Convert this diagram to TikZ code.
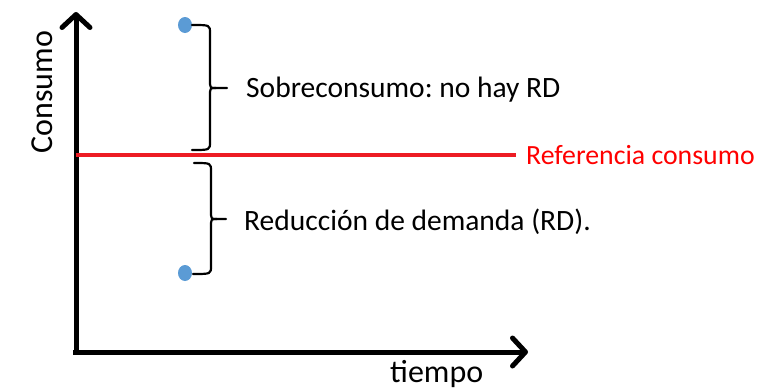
\documentclass[tikz,border=0pt]{standalone}
\usepackage{fontspec}
\setmainfont{Carlito}
\usetikzlibrary{arrows.meta,shapes.geometric}
\definecolor{refred}{RGB}{237,28,36}
\definecolor{txtred}{RGB}{255,0,0}
\definecolor{dotblue}{RGB}{91,155,213}
\tikzset{
  axis/.style={line width=5pt,-{Straight Barb[length=13pt,width=28pt,round]}},
  lbl/.style={font=\fontsize{29.5}{35}\selectfont,inner sep=0pt},
  reflbl/.style={font=\fontsize{27.8}{33}\selectfont,inner sep=0pt,text=txtred},
  axlbl/.style={font=\fontsize{32}{38}\selectfont,inner sep=0pt},
  dot/.style={ellipse,fill=dotblue,minimum width=14pt,minimum height=16pt,inner sep=0pt},
  bracepath/.style={line width=2.2pt,line cap=round,line join=round},
}
\begin{document}
\frenchspacing
\begin{tikzpicture}[x=1pt,y=-1pt]
\useasboundingbox (0,0) rectangle (771,389);
% axes
\coordinate (O) at (76,352);
\coordinate (Ytop) at (76,12);
\coordinate (Oh) at (73,352);
\coordinate (Xend) at (528,352);
\draw[axis] (O) -- (Ytop);
\draw[axis] (Oh) -- (Xend);
% reference line
\coordinate (R0) at (76,155);
\coordinate (R1) at (516,155);
\draw[refred,line width=3.2pt] (R0) -- (R1);
\node[reflbl,anchor=base west] (ref) at (526,164) {Referencia consumo};
% dots
\node[dot] (d1) at (185,25) {};
\node[dot] (d2) at (185,273) {};
% top brace
\draw[bracepath] (192,25) .. controls (210,25) .. (210,33) -- (210,80)
  .. controls (210,88) .. (216,88) -- (227,88);
\draw[bracepath] (216,88) .. controls (210,88) .. (210,96) -- (210,142)
  .. controls (210,150) .. (192,150);
% bottom brace
\draw[bracepath] (194,163) .. controls (211,163) .. (211,171) -- (211,211)
  .. controls (211,219) .. (217,219) -- (226,219);
\draw[bracepath] (217,219) .. controls (211,219) .. (211,227) -- (211,266)
  .. controls (211,274) .. (193,274);
% labels
\node[lbl,anchor=base west] (sob) at (246,97) {Sobreconsumo: no hay RD};
\node[lbl,anchor=base west] (red) at (244,230) {Reducción de demanda (RD).};
\node[axlbl,anchor=base west] (tie) at (390,382) {tiempo};
\node[axlbl,anchor=base,rotate=90] (con) at (52,92) {Consumo};
\end{tikzpicture}
\end{document}
